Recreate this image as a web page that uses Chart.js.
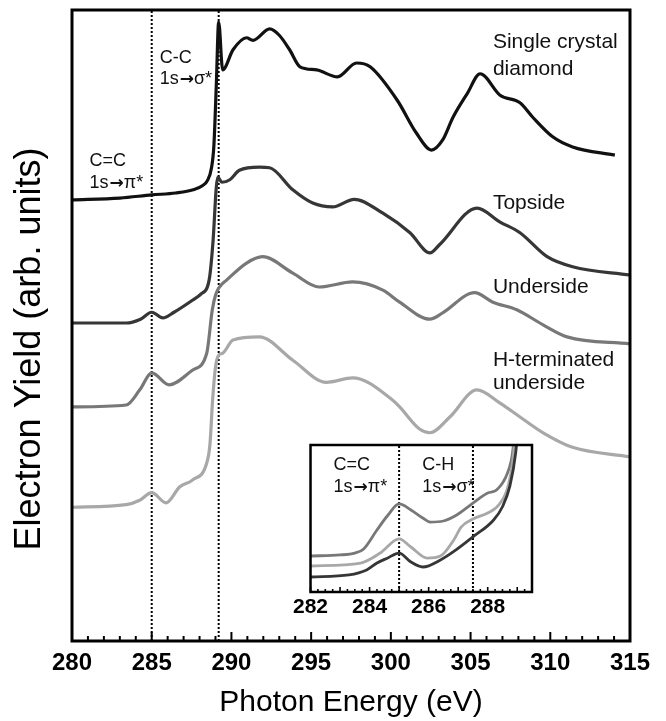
<!DOCTYPE html>
<html>
<head>
<meta charset="utf-8">
<title>NEXAFS spectra</title>
<script src="https://cdn.jsdelivr.net/npm/chart.js@4.4.0/dist/chart.umd.min.js"></script>
<style>
  html, body { margin: 0; padding: 0; background: #fff; }
  #wrap { position: relative; width: 666px; height: 721px; }
  #main { position: absolute; left: 0; top: 0; }
  #inset { position: absolute; left: 290px; top: 437px; }
</style>
</head>
<body>
<div id="wrap">
  <canvas id="main" width="666" height="721"></canvas>
  <canvas id="inset" width="270" height="190"></canvas>
</div>
<script>
const FONT = "'Liberation Sans', Arial, Helvetica, sans-serif";
const ARROW = "\u2192";

// main panel: photon energy (eV) and electron yield (arb. units, curves offset)
const eDiamond = [280, 283, 285, 286.5, 287.6, 288.2, 288.5, 288.75, 288.9, 289.05, 289.2, 289.45, 290.1, 290.95, 291.35, 292.4, 293.0, 293.65, 294.3, 295.35, 296.65, 297.85, 298.7, 300.4, 301.6, 302.55, 303.25, 303.9, 304.8, 305.6, 306.85, 308.1, 308.9, 310.15, 311.4, 314.05];
const yDiamond = [6.99, 7.02, 7.07, 7.1, 7.15, 7.22, 7.3, 7.5, 7.85, 8.8, 9.81, 9.05, 9.37, 9.56, 9.52, 9.70, 9.60, 9.37, 9.10, 9.05, 8.94, 9.16, 9.10, 8.57, 8.05, 7.78, 7.94, 8.30, 8.68, 8.99, 8.65, 8.53, 8.30, 7.99, 7.83, 7.70];

const eTopside = [280, 283.4, 284.3, 285, 285.7, 286.4, 287.55, 288.1, 288.6, 288.85, 289.05, 289.15, 289.4, 289.9, 290.5, 291.75, 292.4, 293.85, 295.1, 296.35, 297.7, 299.5, 301.2, 302.45, 303.05, 305.4, 306.85, 308.1, 309.8, 311.4, 315];
const yTopside = [5.04, 5.04, 5.10, 5.21, 5.12, 5.21, 5.40, 5.50, 5.72, 6.35, 7.19, 7.35, 7.27, 7.31, 7.46, 7.51, 7.50, 7.15, 6.94, 6.88, 7.00, 6.78, 6.47, 6.15, 6.28, 6.86, 6.64, 6.47, 6.09, 5.93, 5.80];

const eUnder = [280, 283.4, 284.25, 285, 286.1, 287.55, 288.45, 288.8, 289.0, 289.25, 289.7, 290.95, 291.95, 293.85, 295.5, 297.6, 299.5, 300.55, 302.45, 303.25, 305.25, 306.4, 307.9, 309.55, 311.05, 315];
const yUnder = [3.71, 3.74, 3.98, 4.25, 4.06, 4.29, 4.56, 5.25, 5.48, 5.61, 5.72, 5.99, 6.09, 5.83, 5.61, 5.69, 5.56, 5.37, 5.10, 5.20, 5.52, 5.37, 5.25, 5.01, 4.82, 4.71];

const eHterm = [280, 283.4, 284.25, 285, 285.9, 286.75, 287.55, 288.45, 288.65, 288.82, 289.0, 289.2, 289.45, 290.1, 291.75, 293.85, 295.95, 297.6, 300.1, 300.55, 301.8, 302.45, 303.7, 305.4, 306.85, 308.1, 309.55, 311.4, 315];
const yHterm = [2.12, 2.16, 2.23, 2.35, 2.19, 2.44, 2.55, 2.82, 3.11, 3.82, 4.34, 4.53, 4.56, 4.77, 4.82, 4.45, 4.10, 4.17, 3.82, 3.71, 3.36, 3.30, 3.55, 3.98, 3.77, 3.55, 3.30, 3.07, 2.92];

const mainMarkers = [285, 289.2];

// inset: pre-edge region
const eInsetTop = [282, 283.3, 283.9, 284.25, 284.6, 285, 285.4, 285.8, 286.4, 286.95, 287.5, 288.2, 288.5, 288.75, 288.95, 289.1];
const yInsetTop = [1.02, 1.16, 1.5, 1.97, 2.3, 2.65, 2.04, 1.70, 2.18, 2.9, 3.75, 4.9, 5.8, 7.2, 9.5, 13];

const eInsetUnder = [282, 283, 283.5, 283.8, 284.25, 284.6, 285, 285.4, 285.8, 286.05, 286.5, 286.95, 287.5, 288, 288.3, 288.67, 288.84, 289.0];
const yInsetUnder = [2.45, 2.52, 2.65, 2.93, 4.22, 5.17, 5.99, 5.58, 5.03, 4.76, 4.83, 5.24, 6.05, 6.73, 6.94, 8.1, 9.46, 13];

const eInsetHterm = [282, 283.7, 284.36, 285, 285.4, 285.95, 286.4, 286.85, 287.1, 287.5, 288, 288.4, 288.7, 288.87, 289.0];
const yInsetHterm = [1.77, 1.97, 2.65, 3.61, 3.06, 2.31, 2.45, 3.54, 4.42, 4.97, 5.37, 5.99, 7.28, 9.32, 13];

const insetMarkers = [285, 287.5];
const insetTickLabels = [282, 284, 286, 288];

const zip = (xs, ys) => xs.map((x, i) => ({ x: x, y: ys[i] }));

function curve(xs, ys, color, width) {
    return {
        data: zip(xs, ys),
        borderColor: color,
        borderWidth: width,
        pointRadius: 0,
        cubicInterpolationMode: "monotone",
        fill: false,
        order: 0
    };
}

function marker(e, lo, hi) {
    return {
        data: [{ x: e, y: lo }, { x: e, y: hi }],
        borderColor: "#000",
        borderWidth: 2,
        borderDash: [2, 2],
        pointRadius: 0,
        order: 5
    };
}

// text with a heavier arrow glyph, like the original figure
function drawLabel(ctx, text, x, y, size) {
    const parts = text.split(ARROW);
    ctx.font = size + "px " + FONT;
    ctx.fillText(parts[0], x, y);
    if (parts.length < 2) return;
    x += ctx.measureText(parts[0]).width + 1;
    ctx.font = "bold " + Math.round(size * 0.95) + "px 'DejaVu Sans', " + FONT;
    ctx.fillText(ARROW, x, y + 1);
    x += ctx.measureText(ARROW).width;
    ctx.font = size + "px " + FONT;
    ctx.fillText(parts[1], x, y);
}

// box around the plot, inward ticks and text labels
const framePlugin = {
    id: "frame",
    beforeDatasetsDraw(chart, args, opts) {
        if (!opts.fill) return;
        const a = chart.chartArea;
        chart.ctx.save();
        chart.ctx.fillStyle = opts.fill;
        chart.ctx.fillRect(a.left, a.top, a.right - a.left, a.bottom - a.top);
        chart.ctx.restore();
    },
    afterDatasetsDraw(chart, args, opts) {
        const ctx = chart.ctx;
        const a = chart.chartArea;
        const x = chart.scales.x;
        const y = chart.scales.y;
        ctx.save();
        ctx.strokeStyle = "#000";
        ctx.lineWidth = opts.tickWidth;
        const n = Math.round((x.max - x.min) / opts.minorStep);
        for (let i = 0; i <= n; i++) {
            const v = x.min + i * opts.minorStep;
            const r = v / opts.majorStep;
            const len = Math.abs(r - Math.round(r)) < 1e-6 ? opts.majorLen : opts.minorLen;
            const px = x.getPixelForValue(v);
            ctx.beginPath();
            ctx.moveTo(px, a.bottom);
            ctx.lineTo(px, a.bottom - len);
            ctx.stroke();
        }
        ctx.lineWidth = opts.width;
        ctx.strokeRect(a.left, a.top, a.right - a.left, a.bottom - a.top);

        ctx.fillStyle = "#111";
        ctx.textAlign = "left";
        ctx.textBaseline = "middle";
        opts.labels.forEach(l => {
            drawLabel(ctx, l.text, x.getPixelForValue(l.x), y.getPixelForValue(l.y), l.size);
        });
        ctx.restore();
    }
};

const yTitlePlugin = {
    id: "ytitle",
    afterDraw(chart) {
        const ctx = chart.ctx;
        ctx.save();
        ctx.translate(30, 349);
        ctx.rotate(-Math.PI / 2);
        ctx.fillStyle = "#000";
        ctx.font = "36px " + FONT;
        ctx.textAlign = "center";
        ctx.textBaseline = "middle";
        ctx.fillText("Electron Yield (arb. units)", 0, 0);
        ctx.restore();
    }
};

const mainLabels = [
    { text: "Single crystal", x: 306.4, y: 9.49, size: 21 },
    { text: "diamond", x: 306.4, y: 9.06, size: 21 },
    { text: "Topside", x: 306.4, y: 6.94, size: 21 },
    { text: "Underside", x: 306.4, y: 5.61, size: 21 },
    { text: "H-terminated", x: 306.4, y: 4.45, size: 21 },
    { text: "underside", x: 306.4, y: 4.09, size: 21 },
    { text: "C-C", x: 285.5, y: 9.24, size: 18 },
    { text: "1s" + ARROW + "\u03c3*", x: 285.5, y: 8.91, size: 18 },
    { text: "C=C", x: 281.1, y: 7.61, size: 18 },
    { text: "1s" + ARROW + "\u03c0*", x: 281.1, y: 7.26, size: 18 }
];

const insetLabels = [
    { text: "C=C", x: 282.78, y: 8.64, size: 18 },
    { text: "1s" + ARROW + "\u03c0*", x: 282.78, y: 7.14, size: 18 },
    { text: "C-H", x: 285.78, y: 8.64, size: 18 },
    { text: "1s" + ARROW + "\u03c3*", x: 285.78, y: 7.14, size: 18 }
];

new Chart(document.getElementById("main"), {
    type: "line",
    data: {
        datasets: [
            curve(eDiamond, yDiamond, "#111", 3.2),
            curve(eTopside, yTopside, "#363636", 3.2),
            curve(eUnder, yUnder, "#787878", 3.2),
            curve(eHterm, yHterm, "#a8a8a8", 3.2)
        ].concat(mainMarkers.map(e => marker(e, 0, 10)))
    },
    options: {
        responsive: false,
        animation: false,
        layout: { padding: { left: 72, right: 36, top: 10, bottom: 0 } },
        plugins: {
            legend: { display: false },
            tooltip: { enabled: false },
            frame: {
                width: 3, tickWidth: 2, minorStep: 1, majorStep: 5,
                minorLen: 5, majorLen: 9, labels: mainLabels
            }
        },
        scales: {
            x: {
                type: "linear", min: 280, max: 315,
                afterFit: s => { s.height = 80; },
                border: { display: false },
                grid: { display: false, drawTicks: false },
                ticks: {
                    stepSize: 5, maxRotation: 0, padding: 8, color: "#000",
                    font: { family: FONT, size: 24, weight: "bold" }
                },
                title: {
                    display: true, text: "Photon Energy (eV)", color: "#000",
                    font: { family: FONT, size: 30 }, padding: { top: 0, bottom: 0 }
                }
            },
            y: { display: false, min: 0, max: 10 }
        }
    },
    plugins: [framePlugin, yTitlePlugin]
});

new Chart(document.getElementById("inset"), {
    type: "line",
    data: {
        datasets: [
            curve(eInsetTop, yInsetTop, "#363636", 2.8),
            curve(eInsetHterm, yInsetHterm, "#a8a8a8", 2.8),
            curve(eInsetUnder, yInsetUnder, "#787878", 2.8)
        ].concat(insetMarkers.map(e => marker(e, 0, 10)))
    },
    options: {
        responsive: false,
        animation: false,
        layout: { padding: { left: 20, right: 28, top: 8, bottom: 0 } },
        plugins: {
            legend: { display: false },
            tooltip: { enabled: false },
            frame: {
                fill: "#fff", width: 2.5, tickWidth: 1.6, minorStep: 0.25, majorStep: 1,
                minorLen: 3, majorLen: 5, labels: insetLabels
            }
        },
        scales: {
            x: {
                type: "linear", min: 282, max: 289.5,
                afterFit: s => { s.height = 35; },
                afterBuildTicks: s => { s.ticks = insetTickLabels.map(v => ({ value: v })); },
                border: { display: false },
                grid: { display: false, drawTicks: false },
                ticks: {
                    maxRotation: 0, padding: 3, color: "#000", autoSkip: false,
                    font: { family: FONT, size: 21, weight: "bold" }
                }
            },
            y: { display: false, min: 0, max: 10 }
        }
    },
    plugins: [framePlugin]
});
</script>
</body>
</html>
